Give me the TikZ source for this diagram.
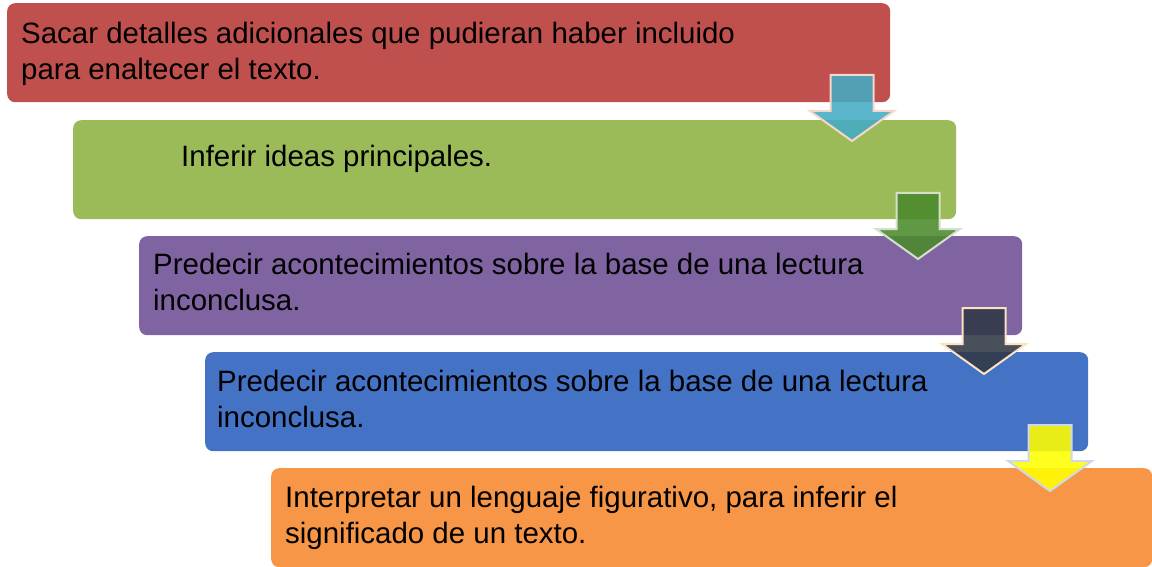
\documentclass[tikz,border=0pt]{standalone}
\usepackage{fontspec}
\setmainfont{Liberation Sans}
\definecolor{cRed}{HTML}{C0504D}
\definecolor{cGreen}{HTML}{9BBB59}
\definecolor{cPurple}{HTML}{8064A2}
\definecolor{cBlue}{HTML}{4472C4}
\definecolor{cOrange}{HTML}{F79646}
\definecolor{aAqua}{HTML}{44ACC5}
\definecolor{aGreen}{HTML}{4A8A2C}
\definecolor{aNavy}{HTML}{303846}
\definecolor{aYellow}{HTML}{FFFF00}
\definecolor{oPeach}{HTML}{F6D6C8}
\definecolor{oSage}{HTML}{D6DECC}
\definecolor{oCream}{HTML}{FAE2C2}
\definecolor{oSteel}{HTML}{D0D8E8}
\tikzset{
  stepbox/.style={rectangle, rounded corners=8pt, draw=none, inner sep=0pt,
    anchor=north west, minimum width=883pt, minimum height=99pt},
  steptext/.style={anchor=base west, inner sep=0pt, text=black,
    font=\fontsize{29.45}{36}\selectfont},
  pics/downarr/.style 2 args={code={
    \path[fill=#1, fill opacity=0.88, draw=#2, line width=2pt, line join=miter]
      (-21.5,0) -- (21.5,0) -- (21.5,36) -- (42,36) -- (0,66)
      -- (-42,36) -- (-21.5,36) -- cycle;
  }}
}
\begin{document}
\begin{tikzpicture}[x=1pt,y=-1pt]
\useasboundingbox (0,0) rectangle (1152,567);
% boxes
\node[stepbox, fill=cRed]    (b1) at (7,3) {};
\node[stepbox, fill=cGreen]  (b2) at (73,120) {};
\node[stepbox, fill=cPurple] (b3) at (139,236) {};
\node[stepbox, fill=cBlue]   (b4) at (205,352) {};
\node[stepbox, fill=cOrange, minimum width=881pt] (b5) at (271,468) {};
% texts
\node[steptext] (t1a) at (21,44) {Sacar detalles adicionales que pudieran haber incluido};
\node[steptext] (t1b) at (21,80) {para enaltecer el texto.};
\node[steptext] (t2)  at (181,167) {Inferir ideas principales.};
\node[steptext] (t3a) at (153,274) {Predecir acontecimientos sobre la base de una lectura};
\node[steptext] (t3b) at (153,310) {inconclusa.};
\node[steptext] (t4a) at (217,391) {Predecir acontecimientos sobre la base de una lectura};
\node[steptext] (t4b) at (217,427) {inconclusa.};
\node[steptext] (t5a) at (285,507) {Interpretar un lenguaje figurativo, para inferir el};
\node[steptext] (t5b) at (285,543) {significado de un texto.};
% arrows
\pic at (852,75)  {downarr={aAqua}{oPeach}};
\pic at (918,193) {downarr={aGreen}{oSage}};
\pic at (984,308) {downarr={aNavy}{oCream}};
\pic at (1050,425) {downarr={aYellow}{oSteel}};
\end{tikzpicture}
\end{document}
